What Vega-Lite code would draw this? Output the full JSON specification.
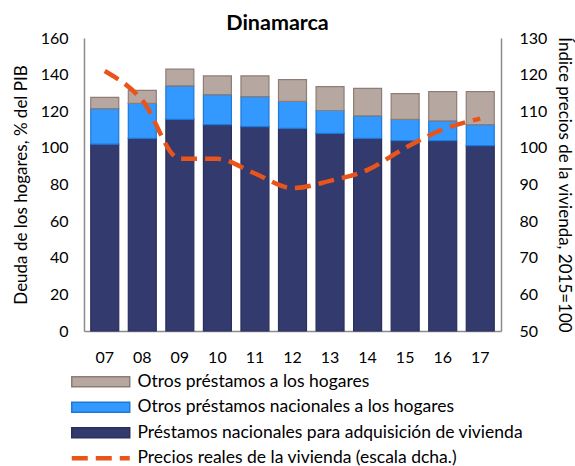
{
  "$schema": "https://vega.github.io/schema/vega-lite/v6.json",
  "width": 417,
  "height": 293,
  "autosize": {"type": "none"},
  "padding": {"left": 84, "top": 38, "right": 74, "bottom": 135},
  "background": "white",
  "title": {"text": "Dinamarca", "fontSize": 21.5, "fontWeight": "bold", "font": "Lato", "color": "#000", "offset": -4, "anchor": "middle", "dx": -15},
  "config": {
    "font": "Lato",
    "view": {"stroke": null},
    "axis": {"grid": false, "ticks": false, "tickSize": 0, "labelFontSize": 16, "labelColor": "#000", "titleFontSize": 17, "titleFontWeight": "normal", "titleColor": "#000", "domainColor": "#8c8c8c", "domainWidth": 1.5, "labelFont": "Lato", "titleFont": "Lato"}
  },
  "datasets": {
    "barras": [
      {"anio": "07", "serie": "Préstamos nacionales para adquisición de vivienda", "orden": 1, "valor": 102.0},
      {"anio": "07", "serie": "Otros préstamos nacionales a los hogares", "orden": 2, "valor": 19.4},
      {"anio": "07", "serie": "Otros préstamos a los hogares", "orden": 3, "valor": 6.2},
      {"anio": "08", "serie": "Préstamos nacionales para adquisición de vivienda", "orden": 1, "valor": 105.2},
      {"anio": "08", "serie": "Otros préstamos nacionales a los hogares", "orden": 2, "valor": 19.1},
      {"anio": "08", "serie": "Otros préstamos a los hogares", "orden": 3, "valor": 7.1},
      {"anio": "09", "serie": "Préstamos nacionales para adquisición de vivienda", "orden": 1, "valor": 115.6},
      {"anio": "09", "serie": "Otros préstamos nacionales a los hogares", "orden": 2, "valor": 18.3},
      {"anio": "09", "serie": "Otros préstamos a los hogares", "orden": 3, "valor": 9.1},
      {"anio": "10", "serie": "Préstamos nacionales para adquisición de vivienda", "orden": 1, "valor": 112.7},
      {"anio": "10", "serie": "Otros préstamos nacionales a los hogares", "orden": 2, "valor": 16.4},
      {"anio": "10", "serie": "Otros préstamos a los hogares", "orden": 3, "valor": 10.2},
      {"anio": "11", "serie": "Préstamos nacionales para adquisición de vivienda", "orden": 1, "valor": 111.6},
      {"anio": "11", "serie": "Otros préstamos nacionales a los hogares", "orden": 2, "valor": 16.4},
      {"anio": "11", "serie": "Otros préstamos a los hogares", "orden": 3, "valor": 11.3},
      {"anio": "12", "serie": "Préstamos nacionales para adquisición de vivienda", "orden": 1, "valor": 110.7},
      {"anio": "12", "serie": "Otros préstamos nacionales a los hogares", "orden": 2, "valor": 14.7},
      {"anio": "12", "serie": "Otros préstamos a los hogares", "orden": 3, "valor": 11.9},
      {"anio": "13", "serie": "Préstamos nacionales para adquisición de vivienda", "orden": 1, "valor": 107.9},
      {"anio": "13", "serie": "Otros préstamos nacionales a los hogares", "orden": 2, "valor": 12.5},
      {"anio": "13", "serie": "Otros préstamos a los hogares", "orden": 3, "valor": 13.0},
      {"anio": "14", "serie": "Préstamos nacionales para adquisición de vivienda", "orden": 1, "valor": 105.2},
      {"anio": "14", "serie": "Otros préstamos nacionales a los hogares", "orden": 2, "valor": 12.3},
      {"anio": "14", "serie": "Otros préstamos a los hogares", "orden": 3, "valor": 15.0},
      {"anio": "15", "serie": "Préstamos nacionales para adquisición de vivienda", "orden": 1, "valor": 103.9},
      {"anio": "15", "serie": "Otros préstamos nacionales a los hogares", "orden": 2, "valor": 11.7},
      {"anio": "15", "serie": "Otros préstamos a los hogares", "orden": 3, "valor": 14.0},
      {"anio": "16", "serie": "Préstamos nacionales para adquisición de vivienda", "orden": 1, "valor": 103.9},
      {"anio": "16", "serie": "Otros préstamos nacionales a los hogares", "orden": 2, "valor": 10.8},
      {"anio": "16", "serie": "Otros préstamos a los hogares", "orden": 3, "valor": 16.0},
      {"anio": "17", "serie": "Préstamos nacionales para adquisición de vivienda", "orden": 1, "valor": 101.2},
      {"anio": "17", "serie": "Otros préstamos nacionales a los hogares", "orden": 2, "valor": 11.5},
      {"anio": "17", "serie": "Otros préstamos a los hogares", "orden": 3, "valor": 18.0}
    ],
    "precios": [
      {"anio": "07", "serie": "Precios reales de la vivienda (escala dcha.)", "indice": 121},
      {"anio": "08", "serie": "Precios reales de la vivienda (escala dcha.)", "indice": 113},
      {"anio": "09", "serie": "Precios reales de la vivienda (escala dcha.)", "indice": 97},
      {"anio": "10", "serie": "Precios reales de la vivienda (escala dcha.)", "indice": 97},
      {"anio": "11", "serie": "Precios reales de la vivienda (escala dcha.)", "indice": 93},
      {"anio": "12", "serie": "Precios reales de la vivienda (escala dcha.)", "indice": 89},
      {"anio": "13", "serie": "Precios reales de la vivienda (escala dcha.)", "indice": 91},
      {"anio": "14", "serie": "Precios reales de la vivienda (escala dcha.)", "indice": 94},
      {"anio": "15", "serie": "Precios reales de la vivienda (escala dcha.)", "indice": 100},
      {"anio": "16", "serie": "Precios reales de la vivienda (escala dcha.)", "indice": 105},
      {"anio": "17", "serie": "Precios reales de la vivienda (escala dcha.)", "indice": 108}
    ]
  },
  "encoding": {
    "x": {
      "field": "anio", "type": "nominal", "sort": null,
      "scale": {"paddingInner": 0.255, "paddingOuter": 0.18},
      "axis": {"title": null, "labelAngle": 0, "labelPadding": 18}
    }
  },
  "layer": [
    {
      "data": {"name": "barras"},
      "mark": {"type": "bar", "strokeWidth": 1.2},
      "encoding": {
        "y": {
          "field": "valor", "type": "quantitative", "stack": "zero",
          "scale": {"domain": [0, 160], "nice": false},
          "axis": {"title": "Deuda de los hogares, % del PIB", "values": [0, 20, 40, 60, 80, 100, 120, 140, 160], "labelPadding": 16, "titlePadding": 10}
        },
        "order": {"field": "orden", "type": "quantitative", "sort": "ascending"},
        "color": {
          "field": "serie", "type": "nominal",
          "scale": {
            "domain": ["Otros préstamos a los hogares", "Otros préstamos nacionales a los hogares", "Préstamos nacionales para adquisición de vivienda", "Precios reales de la vivienda (escala dcha.)"],
            "range": ["#B6A8A1", "#3399FF", "#333A6E", "#E8541A"]
          },
          "legend": {
            "title": null,
            "orient": "none",
            "legendX": 8,
            "legendY": 335,
            "direction": "vertical",
            "labelFontSize": 17.5,
            "labelColor": "#000",
            "labelFont": "Lato",
            "symbolSize": 210,
            "labelOffset": 28,
            "rowPadding": 6.5,
            "padding": 0,
            "labelLimit": 500,
            "encode": {
              "symbols": {
                "update": {
                  "shape": {"signal": "datum.value === 'Precios reales de la vivienda (escala dcha.)' ? 'M-4,0H4' : 'M-4,-0.68H4V0.68H-4Z'"},
                  "fill": {"signal": "datum.value === 'Precios reales de la vivienda (escala dcha.)' ? 'transparent' : (datum.value === 'Otros préstamos a los hogares' ? '#B6A8A1' : (datum.value === 'Otros préstamos nacionales a los hogares' ? '#3399FF' : '#333A6E'))"},
                  "stroke": {"signal": "datum.value === 'Precios reales de la vivienda (escala dcha.)' ? '#E8541A' : (datum.value === 'Otros préstamos a los hogares' ? '#8E7D75' : (datum.value === 'Otros préstamos nacionales a los hogares' ? '#1E78D6' : '#2A2F5C'))"},
                  "strokeWidth": {"signal": "datum.value === 'Precios reales de la vivienda (escala dcha.)' ? 4.5 : 1.5"},
                  "strokeDash": {"signal": "datum.value === 'Precios reales de la vivienda (escala dcha.)' ? [16, 8] : [1, 0]"},
                  "opacity": {"value": 1}
                }
              }
            }
          }
        },
        "stroke": {
          "field": "serie", "type": "nominal",
          "scale": {
            "domain": ["Otros préstamos a los hogares", "Otros préstamos nacionales a los hogares", "Préstamos nacionales para adquisición de vivienda"],
            "range": ["#8E7D75", "#1E78D6", "#2A2F5C"]
          },
          "legend": null
        }
      }
    },
    {
      "data": {"name": "precios"},
      "mark": {"type": "line", "interpolate": "monotone", "strokeWidth": 4.5, "strokeDash": [16, 8], "color": "#E8541A"},
      "encoding": {
        "y": {
          "field": "indice", "type": "quantitative",
          "scale": {"domain": [50, 130], "nice": false},
          "axis": {"orient": "right", "title": "Índice precios de la vivienda, 2015=100", "values": [50, 60, 70, 80, 90, 100, 110, 120, 130], "labelPadding": 18, "titlePadding": 8}
        }
      }
    }
  ],
  "resolve": {"scale": {"y": "independent", "stroke": "independent"}}
}
